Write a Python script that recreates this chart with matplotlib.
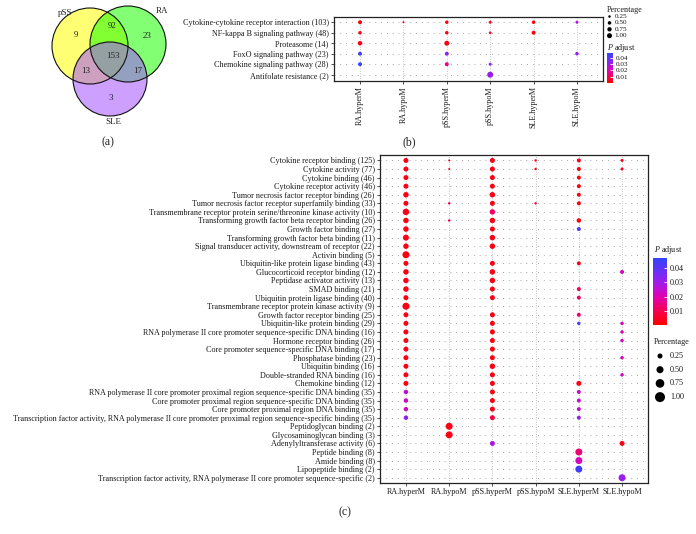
import numpy as np
import matplotlib
matplotlib.use('Agg')
import matplotlib.pyplot as plt
from matplotlib.patches import Circle
from matplotlib.colors import LinearSegmentedColormap, Normalize
from matplotlib.cm import ScalarMappable

plt.rcParams['font.family'] = 'Liberation Serif'
plt.rcParams['mathtext.fontset'] = 'custom'
plt.rcParams['mathtext.it'] = 'Liberation Serif:italic'
plt.rcParams['mathtext.rm'] = 'Liberation Serif'

W, H = 696, 534
FS = 5.85
TXT = '#1a1a1a'

# ---- (a) venn ----
venn_sets = ['pSS', 'RA', 'SLE']
venn_regions = ['pSS', 'pSS&RA', 'RA', 'pSS&SLE', 'pSS&RA&SLE', 'RA&SLE', 'SLE']
venn_counts = [9, 92, 23, 13, 153, 17, 3]

# ---- (b) KEGG ----
groups = ['RA.hyperM', 'RA.hypoM', 'pSS.hyperM', 'pSS.hypoM', 'SLE.hyperM', 'SLE.hypoM']
b_terms = ['Cytokine-cytokine receptor interaction (103)',
           'NF-kappa B signaling pathway (48)',
           'Proteasome (14)',
           'FoxO signaling pathway (23)',
           'Chemokine signaling pathway (28)',
           'Antifolate resistance (2)']
# 0 = no dot
b_pct = [[0.44, 0.11, 0.34, 0.25, 0.34, 0.25],
         [0.34, 0, 0.34, 0.20, 0.44, 0],
         [0.56, 0, 0.69, 0, 0, 0],
         [0.44, 0, 0.44, 0, 0, 0.34],
         [0.44, 0, 0.44, 0.25, 0, 0],
         [0, 0, 0, 1.00, 0, 0]]
b_padj = [[0.003, 0.004, 0.003, 0.005, 0.002, 0.028],
          [0.003, 0, 0.003, 0.005, 0.002, 0],
          [0.003, 0, 0.002, 0, 0, 0],
          [0.044, 0, 0.033, 0, 0, 0.032],
          [0.046, 0, 0.015, 0.033, 0, 0],
          [0, 0, 0, 0.031, 0, 0]]

# ---- (c) GO ----
c_terms = ['Cytokine receptor binding (125)',
           'Cytokine activity (77)',
           'Cytokine binding (46)',
           'Cytokine receptor activity (46)',
           'Tumor necrosis factor receptor binding (26)',
           'Tumor necrosis factor receptor superfamily binding (33)',
           'Transmembrane receptor protein serine/threonine kinase activity (10)',
           'Transforming growth factor beta receptor binding (26)',
           'Growth factor binding (27)',
           'Transforming growth factor beta binding (11)',
           'Signal transducer activity, downstream of receptor (22)',
           'Activin binding (5)',
           'Ubiquitin-like protein ligase binding (43)',
           'Glucocorticoid receptor binding (12)',
           'Peptidase activator activity (13)',
           'SMAD binding (21)',
           'Ubiquitin protein ligase binding (40)',
           'Transmembrane receptor protein kinase activity (9)',
           'Growth factor receptor binding (25)',
           'Ubiquitin-like protein binding (29)',
           'RNA polymerase II core promoter sequence-specific DNA binding (16)',
           'Hormone receptor binding (26)',
           'Core promoter sequence-specific DNA binding (17)',
           'Phosphatase binding (23)',
           'Ubiquitin binding (16)',
           'Double-stranded RNA binding (16)',
           'Chemokine binding (12)',
           'RNA polymerase II core promoter proximal region sequence-specific DNA binding (35)',
           'Core promoter proximal region sequence-specific DNA binding (35)',
           'Core promoter proximal region DNA binding (35)',
           'Transcription factor activity, RNA polymerase II core promoter proximal region sequence-specific binding (35)',
           'Peptidoglycan binding (2)',
           'Glycosaminoglycan binding (3)',
           'Adenylyltransferase activity (6)',
           'Peptide binding (8)',
           'Amide binding (8)',
           'Lipopeptide binding (2)',
           'Transcription factor activity, RNA polymerase II core promoter sequence-specific (2)']
c_pct = [[0.25, 0.04, 0.25, 0.06, 0.16, 0.09],
         [0.25, 0.04, 0.25, 0.06, 0.16, 0.09],
         [0.25, 0, 0.25, 0, 0.16, 0],
         [0.25, 0, 0.25, 0, 0.16, 0],
         [0.30, 0, 0.30, 0, 0.16, 0],
         [0.25, 0.06, 0.25, 0.06, 0.16, 0],
         [0.42, 0, 0.30, 0, 0, 0],
         [0.30, 0.06, 0.30, 0, 0.20, 0],
         [0.30, 0, 0.25, 0, 0.16, 0],
         [0.36, 0, 0.30, 0, 0, 0],
         [0.30, 0, 0.30, 0, 0, 0],
         [0.49, 0, 0, 0, 0, 0],
         [0.25, 0, 0.25, 0, 0.16, 0],
         [0.30, 0, 0.30, 0, 0, 0.16],
         [0.30, 0, 0.30, 0, 0, 0],
         [0.30, 0, 0.25, 0, 0.16, 0],
         [0.25, 0, 0.25, 0, 0.16, 0],
         [0.49, 0, 0, 0, 0, 0],
         [0.25, 0, 0.25, 0, 0.16, 0],
         [0.25, 0, 0.25, 0, 0.12, 0.12],
         [0.25, 0, 0.25, 0, 0, 0.12],
         [0.25, 0, 0.25, 0, 0, 0.12],
         [0.25, 0, 0.25, 0, 0, 0],
         [0.25, 0, 0.25, 0, 0, 0.12],
         [0.25, 0, 0.30, 0, 0, 0],
         [0.25, 0, 0.25, 0, 0, 0.12],
         [0.25, 0, 0.25, 0, 0.25, 0],
         [0.20, 0, 0.25, 0, 0.16, 0],
         [0.20, 0, 0.25, 0, 0.16, 0],
         [0.20, 0, 0.25, 0, 0.16, 0],
         [0.20, 0, 0.25, 0, 0.16, 0],
         [0, 0.49, 0, 0, 0, 0],
         [0, 0.49, 0, 0, 0, 0],
         [0, 0, 0.25, 0, 0, 0.25],
         [0, 0, 0, 0, 0.49, 0],
         [0, 0, 0, 0, 0.49, 0],
         [0, 0, 0, 0, 0.49, 0],
         [0, 0, 0, 0, 0, 0.49]]
c_padj = [[0.003, 0.004, 0.003, 0.004, 0.003, 0.005],
          [0.003, 0.006, 0.003, 0.004, 0.003, 0.005],
          [0.003, 0, 0.003, 0, 0.003, 0],
          [0.003, 0, 0.003, 0, 0.003, 0],
          [0.003, 0, 0.003, 0, 0.003, 0],
          [0.003, 0.010, 0.003, 0.009, 0.003, 0],
          [0.003, 0, 0.012, 0, 0, 0],
          [0.003, 0.010, 0.003, 0, 0.003, 0],
          [0.003, 0, 0.003, 0, 0.045, 0],
          [0.003, 0, 0.003, 0, 0, 0],
          [0.003, 0, 0.003, 0, 0, 0],
          [0.003, 0, 0, 0, 0, 0],
          [0.003, 0, 0.003, 0, 0.004, 0],
          [0.003, 0, 0.003, 0, 0, 0.022],
          [0.003, 0, 0.003, 0, 0, 0],
          [0.003, 0, 0.003, 0, 0.011, 0],
          [0.003, 0, 0.003, 0, 0.012, 0],
          [0.003, 0, 0, 0, 0, 0],
          [0.003, 0, 0.003, 0, 0.013, 0],
          [0.003, 0, 0.003, 0, 0.044, 0.022],
          [0.003, 0, 0.003, 0, 0, 0.022],
          [0.003, 0, 0.003, 0, 0, 0.023],
          [0.003, 0, 0.003, 0, 0, 0],
          [0.003, 0, 0.003, 0, 0, 0.022],
          [0.003, 0, 0.003, 0, 0, 0],
          [0.003, 0, 0.003, 0, 0, 0.022],
          [0.003, 0, 0.003, 0, 0.003, 0],
          [0.026, 0, 0.003, 0, 0.025, 0],
          [0.024, 0, 0.003, 0, 0.025, 0],
          [0.023, 0, 0.003, 0, 0.025, 0],
          [0.032, 0, 0.008, 0, 0.032, 0],
          [0, 0.003, 0, 0, 0, 0],
          [0, 0.003, 0, 0, 0, 0],
          [0, 0, 0.028, 0, 0, 0.003],
          [0, 0, 0, 0, 0.014, 0],
          [0, 0, 0, 0, 0.022, 0],
          [0, 0, 0, 0, 0.045, 0],
          [0, 0, 0, 0, 0, 0.031]]

size_breaks = [0.25, 0.50, 0.75, 1.00]
padj_ticks = [0.01, 0.02, 0.03, 0.04]

cmap = LinearSegmentedColormap.from_list('padj', [
    (0.0, '#ff0000'), (0.2, '#f5004a'), (0.42, '#e000b0'),
    (0.62, '#a41ae8'), (0.85, '#5a35fa'), (1.0, '#3344ff')])
norm = Normalize(vmin=0.0005, vmax=0.0472)


def size_c(p):
    # dot diameter 10 px at 100 %
    return (10 * np.sqrt(np.asarray(p)) * 0.72) ** 2


def size_b(p):
    return (6 * np.sqrt(np.asarray(p)) * 0.72) ** 2


fig = plt.figure(figsize=(W / 100, H / 100), dpi=100)


def px_axes(x0, y0, x1, y1):
    return fig.add_axes([x0 / W, 1 - y1 / H, (x1 - x0) / W, (y1 - y0) / H])


def dot_panel(ax, terms, pct, padj, sizef, pad_top, pad_bot, xrot):
    n = len(terms)
    ax.set_axisbelow(True)
    ax.grid(axis='y', linestyle=(0, (1, 6)), color='#8c8c8c', lw=0.6)
    ax.grid(axis='x', linestyle=(0, (1, 2.5)), color='#8c8c8c', lw=0.5)
    xs, ys, ss, cs = [], [], [], []
    for i in range(n):
        for j in range(len(groups)):
            if pct[i][j] > 0:
                xs.append(j)
                ys.append(i)
                ss.append(pct[i][j])
                cs.append(padj[i][j])
    ax.scatter(xs, ys, s=sizef(ss), c=cs, cmap=cmap, norm=norm,
               edgecolors='none', zorder=3)
    ax.set_xlim(-0.6, len(groups) - 0.4)
    ax.set_ylim(n - 1 + pad_bot, -pad_top)
    ax.set_yticks(range(n))
    ax.set_yticklabels(terms, fontsize=FS, color=TXT)
    ax.set_xticks(range(len(groups)))
    ax.set_xticklabels(groups, fontsize=FS, color=TXT, rotation=xrot,
                       va='top', ha='center')
    ax.tick_params(length=2.5, width=0.6, pad=1.2, color='#333333')
    for s in ax.spines.values():
        s.set_linewidth(0.9)
        s.set_color('#222222')


# panel b
axb = px_axes(334, 17, 603, 81)
dot_panel(axb, b_terms, b_pct, b_padj, size_b, 0.5, 0.6, 90)

# panel c
axc = px_axes(380, 155.3, 648, 483.3)
dot_panel(axc, c_terms, c_pct, c_padj, size_c, 0.6, 0.65, 0)

# colour bars
sm = ScalarMappable(norm=norm, cmap=cmap)
for (x0, y0, x1, y1), lfs in [((607, 53, 613, 83), 5.2), ((653, 257.7, 667, 325), FS)]:
    cax = px_axes(x0, y0, x1, y1)
    cb = fig.colorbar(sm, cax=cax)
    cb.outline.set_visible(False)
    cb.set_ticks(padj_ticks)
    cb.set_ticklabels(['%.2f' % t for t in padj_ticks])
    cax.tick_params(length=2, width=0.6, color='white', direction='in',
                    labelsize=lfs, labelcolor=TXT, pad=2)

# overlay in pixel coords: venn, legends, panel letters
ov = fig.add_axes([0, 0, 1, 1])
ov.set_xlim(0, W)
ov.set_ylim(H, 0)
ov.axis('off')
ov.patch.set_alpha(0)

venn_circles = {'pSS': ((90, 46), 38, '#ffff00'),
                'RA': ((128, 44), 38, '#1cff00'),
                'SLE': ((110, 79), 37, '#a452ff')}
for name in venn_sets:
    c, r, col = venn_circles[name]
    ov.add_patch(Circle(c, r, facecolor=col, alpha=0.55, edgecolor='none'))
for name in venn_sets:
    c, r, col = venn_circles[name]
    ov.add_patch(Circle(c, r, facecolor='none', edgecolor='#111111', lw=0.8))

venn_text_pos = [(76, 35), (112, 26), (147, 36), (86, 71), (113, 56), (138, 71), (111, 98)]
for (x, y), v in zip(venn_text_pos, venn_counts):
    ov.text(x, y, str(v), fontsize=6.5, color='#222222', ha='center', va='center')
for name, (x, y) in zip(venn_sets, [(65, 13), (162, 11), (113, 122)]):
    ov.text(x, y, name, fontsize=6.5, color='#222222', ha='center', va='center')

for lab, (x, y) in zip(['(a)', '(b)', '(c)'], [(108, 142), (409, 142), (345, 512)]):
    ov.text(x, y, lab, fontsize=8.5, color='#222222', ha='center', va='center')

# legend b
ov.text(607, 9.5, 'Percentage', fontsize=FS, color=TXT, ha='left', va='center')
for k, p in enumerate(size_breaks):
    y = 16.5 + k * 6.4
    ov.scatter([609.5], [y], s=size_b(p) * 0.7, color='black', edgecolors='none')
    ov.text(614.5, y, '%.2f' % p, fontsize=5.2, color=TXT, ha='left', va='center')
ov.text(607, 47.5, '$P$ adjust', fontsize=FS, color=TXT, ha='left', va='center')

# legend c
ov.text(654, 250, '$P$ adjust', fontsize=FS, color=TXT, ha='left', va='center')
ov.text(654, 342, 'Percentage', fontsize=FS, color=TXT, ha='left', va='center')
for k, p in enumerate(size_breaks):
    y = 356 + k * 13.7
    ov.scatter([660], [y], s=size_c(p), color='black', edgecolors='none')
    ov.text(670, y, '%.2f' % p, fontsize=FS, color=TXT, ha='left', va='center')

fig.savefig('out.png', dpi=100, facecolor='white')
